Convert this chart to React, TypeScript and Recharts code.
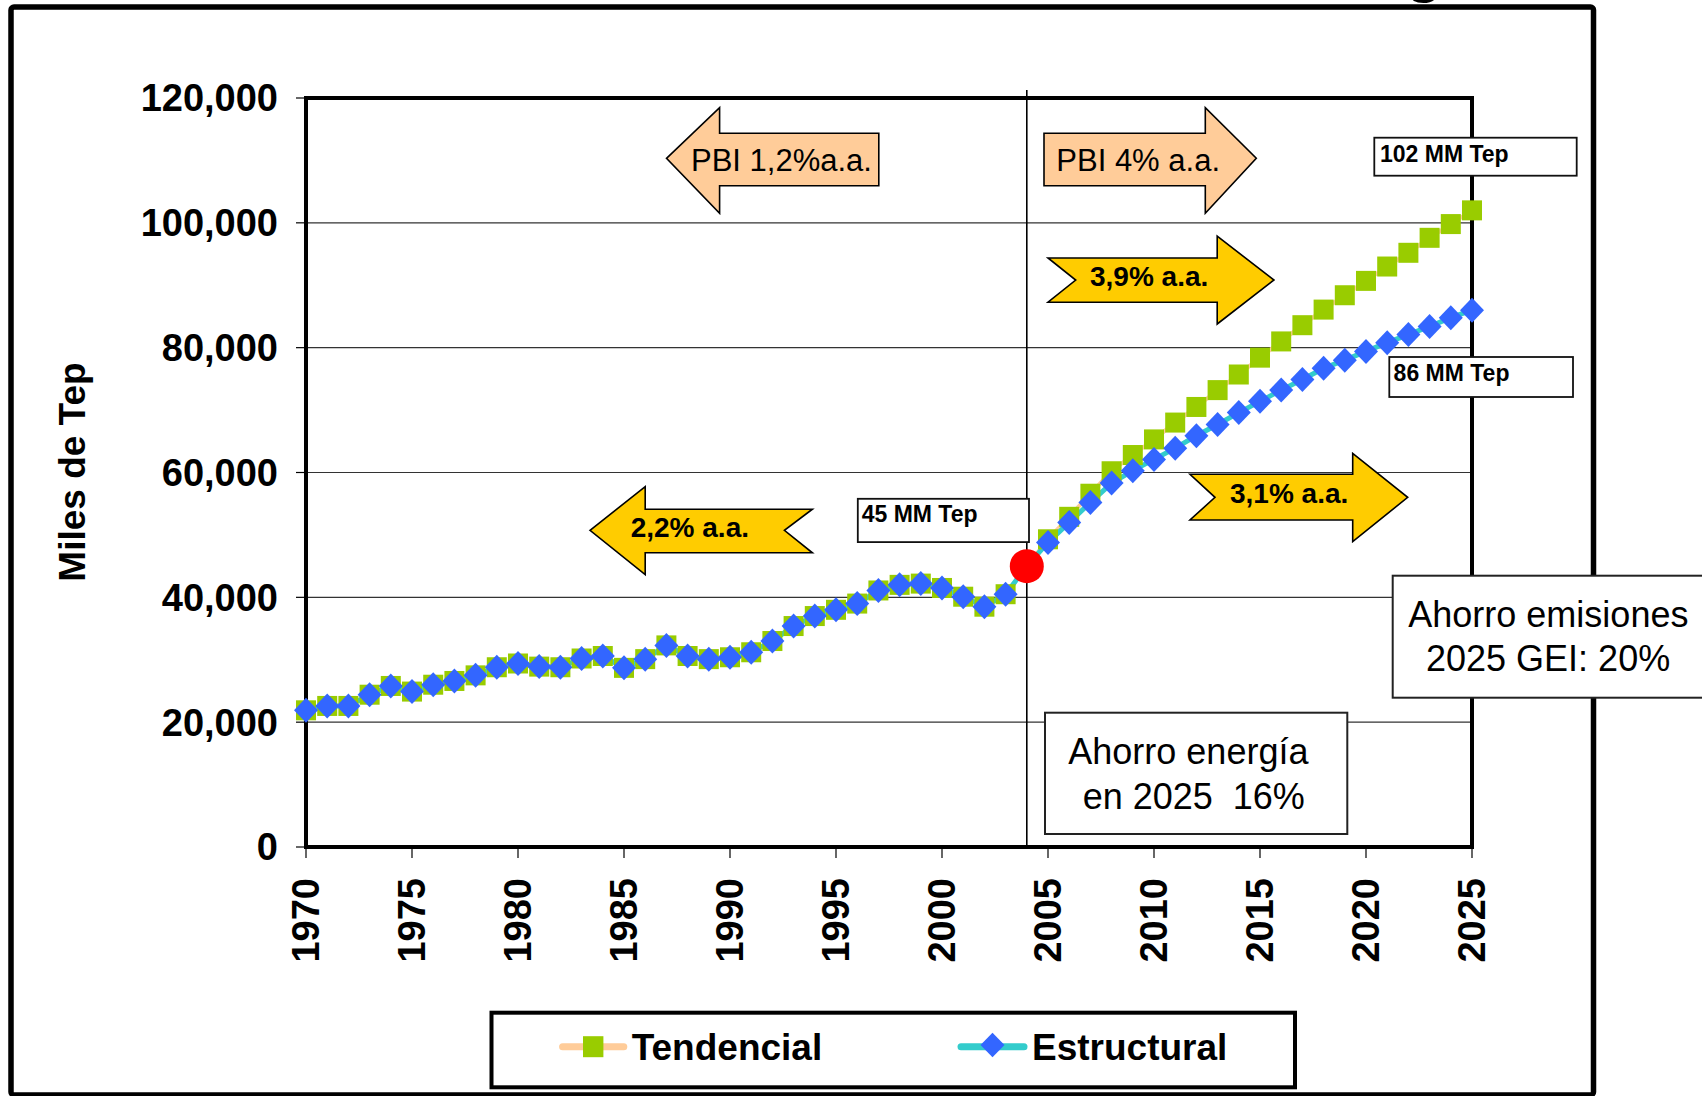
import React from 'react';
import {
  LineChart,
  Line,
  XAxis,
  YAxis,
  CartesianGrid,
  ReferenceLine,
  ReferenceDot,
  ReferenceArea,
} from 'recharts';

// Consumo de energía, miles de Tep
const years = Array.from({ length: 56 }, (_, i) => 1970 + i);

// 1970–2004: serie histórica compartida por ambos escenarios
const historico = [
  21900, 22600, 22600, 24400, 25800, 24900, 26000, 26600, 27500, 28800,
  29400, 28900, 28800, 30200, 30600, 28700, 30100, 32300, 30600, 30100,
  30400, 31200, 33000, 35400, 37000, 38000, 39000, 41100, 42000, 42200,
  41500, 40100, 38500, 40500, 45000,
];

// 2005–2025: proyecciones
const tendencialProy = [
  49300, 52900, 56600, 60200, 62800, 65300, 68000, 70500, 73200, 75700,
  78400, 81000, 83600, 86100, 88400, 90700, 93000, 95200, 97600, 99800,
  102000,
];
const estructuralProy = [
  48800, 52000, 55200, 58300, 60300, 62100, 63900, 65900, 67700, 69600,
  71400, 73200, 74900, 76700, 78000, 79400, 80800, 82100, 83400, 84800,
  86000,
];

const xTicks = [1970, 1975, 1980, 1985, 1990, 1995, 2000, 2005, 2010, 2015, 2020, 2025];
const yTicks = [0, 20000, 40000, 60000, 80000, 100000, 120000];

const baseYear = 2004;
const baseValue = 45000;

const tendencial = [...historico, ...tendencialProy];
const estructural = [...historico, ...estructuralProy];

const data = years.map((year, i) => ({
  year,
  tendencial: tendencial[i],
  estructural: estructural[i],
}));

const FONT = '"Liberation Sans", Arial, Helvetica, sans-serif';

const C_TEND_LINE = '#FFCC99';
const C_TEND_MARK = '#99CC00';
const C_EST_LINE = '#33CCCC';
const C_EST_MARK = '#3366FF';
const C_PEACH = '#FFCC99';
const C_GOLD = '#FFCC00';

const SquareDot = (props: any) => {
  const { cx, cy } = props;
  if (cx == null || cy == null) return null;
  return <rect x={cx - 10} y={cy - 10} width={20} height={20} fill={C_TEND_MARK} />;
};

const DiamondDot = (props: any) => {
  const { cx, cy } = props;
  if (cx == null || cy == null) return null;
  return (
    <polygon
      points={`${cx},${cy - 12.5} ${cx + 12},${cy} ${cx},${cy + 12.5} ${cx - 12},${cy}`}
      fill={C_EST_MARK}
    />
  );
};

const XTick = (props: any) => {
  const { x, y, payload } = props;
  return (
    <text
      x={x}
      y={y}
      transform={`rotate(-90 ${x} ${y})`}
      textAnchor="end"
      dy="0.355em"
      fontSize={38}
      fontWeight={700}
      fontFamily={FONT}
      fill="#000"
    >
      {payload.value}
    </text>
  );
};

const fmt = (v: number) => v.toLocaleString('en-US');

const Arrow = ({ points, fill }: { points: number[][]; fill: string }) => (
  <polygon
    points={points.map((p) => p.join(',')).join(' ')}
    fill={fill}
    stroke="#000"
    strokeWidth={1.6}
    strokeLinejoin="miter"
  />
);

const LabelBox = ({ x, y, w, h, text, tx, ty }: any) => (
  <g>
    <rect x={x} y={y} width={w} height={h} fill="#fff" stroke="#111" strokeWidth={1.8} />
    <text x={tx} y={ty} fontFamily={FONT} fontWeight={700} fontSize={23} fill="#000">
      {text}
    </text>
  </g>
);

export default function App() {
  return (
    <div
      style={{
        position: 'absolute',
        left: 0,
        top: 0,
        width: 1702,
        height: 1096,
        overflow: 'hidden',
        background: '#fff',
      }}
    >
      {/* marco exterior */}
      <svg width={1702} height={1096} style={{ position: 'absolute', left: 0, top: 0 }}>
        <text x={1424} y={-9} textAnchor="middle" fontFamily={FONT} fontWeight={700} fontSize={60} fill="#000">
          g
        </text>
        <rect x={11} y={7} width={1582.5} height={1088} rx={3} fill="none" stroke="#000" strokeWidth={5.5} />
      </svg>

      <div style={{ position: 'absolute', left: 0, top: 0 }}>
        <LineChart
          width={1702}
          height={1096}
          data={data}
          margin={{ top: 98, right: 230, bottom: 129, left: 0 }}
        >
          <CartesianGrid vertical={false} stroke="#333" strokeWidth={1.2} />
          <XAxis
            dataKey="year"
            type="number"
            domain={[1970, 2025]}
            ticks={xTicks}
            interval={0}
            height={120}
            tick={<XTick />}
            tickSize={11}
            tickMargin={20}
            axisLine={{ stroke: '#000', strokeWidth: 4 }}
            tickLine={{ stroke: '#000', strokeWidth: 1.2 }}
          />
          <YAxis
            type="number"
            domain={[0, 120000]}
            ticks={yTicks}
            interval={0}
            width={306}
            tickFormatter={fmt}
            tick={{ fontSize: 38, fontWeight: 700, fill: '#000', fontFamily: FONT }}
            tickSize={10}
            tickMargin={18}
            axisLine={{ stroke: '#000', strokeWidth: 4 }}
            tickLine={{ stroke: '#000', strokeWidth: 1.2 }}
          />
          <ReferenceArea
            x1={1970}
            x2={2025}
            y1={0}
            y2={120000}
            fill="none"
            fillOpacity={0}
            stroke="#000"
            strokeWidth={4}
            ifOverflow="visible"
          />
          <ReferenceLine
            segment={[
              { x: baseYear, y: 0 },
              { x: baseYear, y: 121300 },
            ]}
            stroke="#000"
            strokeWidth={1.6}
            ifOverflow="visible"
          />
          <Line
            dataKey="tendencial"
            name="Tendencial"
            stroke={C_TEND_LINE}
            strokeWidth={4}
            dot={SquareDot}
            activeDot={false}
            isAnimationActive={false}
          />
          <Line
            dataKey="estructural"
            name="Estructural"
            stroke={C_EST_LINE}
            strokeWidth={5}
            dot={DiamondDot}
            activeDot={false}
            isAnimationActive={false}
          />
          <ReferenceDot x={baseYear} y={baseValue} r={17} fill="#FF0000" stroke="none" ifOverflow="visible" />
        </LineChart>
      </div>

      {/* anotaciones */}
      <svg
        width={1702}
        height={1096}
        style={{ position: 'absolute', left: 0, top: 0, pointerEvents: 'none' }}
      >
        <text
          transform="translate(85,472) rotate(-90)"
          textAnchor="middle"
          fontFamily={FONT}
          fontWeight={700}
          fontSize={37}
          fill="#000"
        >
          Miles de Tep
        </text>

        {/* PBI */}
        <Arrow
          fill={C_PEACH}
          points={[
            [666.5, 158.3],
            [719.6, 107.7],
            [719.6, 133.3],
            [878.8, 133.3],
            [878.8, 185.7],
            [719.6, 185.7],
            [719.6, 213.3],
          ]}
        />
        <text x={691} y={171} fontFamily={FONT} fontSize={31} fill="#000">
          PBI 1,2%a.a.
        </text>
        <Arrow
          fill={C_PEACH}
          points={[
            [1044, 133.3],
            [1205.3, 133.3],
            [1205.3, 107.7],
            [1256.3, 158.3],
            [1205.3, 213.3],
            [1205.3, 185.7],
            [1044, 185.7],
          ]}
        />
        <text x={1056.3} y={171} fontFamily={FONT} fontSize={31} fill="#000">
          PBI 4% a.a.
        </text>

        {/* tasas de crecimiento */}
        <Arrow
          fill={C_GOLD}
          points={[
            [1048, 258],
            [1217.2, 258],
            [1217.2, 236.2],
            [1274, 280],
            [1217.2, 324],
            [1217.2, 302.2],
            [1048, 302.2],
            [1075.7, 280],
          ]}
        />
        <text x={1090} y={285.7} fontFamily={FONT} fontWeight={700} fontSize={28} fill="#000">
          3,9% a.a.
        </text>
        <Arrow
          fill={C_GOLD}
          points={[
            [1190, 474.3],
            [1352.7, 474.3],
            [1352.7, 453.3],
            [1407.7, 497.3],
            [1352.7, 541.7],
            [1352.7, 520],
            [1190, 520],
            [1215, 497.3],
          ]}
        />
        <text x={1230} y={503.3} fontFamily={FONT} fontWeight={700} fontSize={28} fill="#000">
          3,1% a.a.
        </text>
        <Arrow
          fill={C_GOLD}
          points={[
            [590, 530.3],
            [645.2, 486.7],
            [645.2, 509.2],
            [812.4, 509.2],
            [784.4, 530.3],
            [812.4, 552.8],
            [645.2, 552.8],
            [645.2, 574.6],
          ]}
        />
        <text x={630.7} y={537} fontFamily={FONT} fontWeight={700} fontSize={28} fill="#000">
          2,2% a.a.
        </text>

        {/* valores */}
        <LabelBox x={857.8} y={498.8} w={171.2} h={43.3} text="45 MM Tep" tx={861.7} ty={522} />
        <LabelBox x={1374.3} y={137.7} w={202.4} h={38} text="102 MM Tep" tx={1380} ty={162.3} />
        <LabelBox x={1389.3} y={357} w={183.7} h={40} text="86 MM Tep" tx={1393.6} ty={381.3} />

        {/* ahorros */}
        <rect x={1045} y={712.7} width={302.3} height={121.3} fill="#fff" stroke="#222" strokeWidth={2} />
        <text fontFamily={FONT} fontSize={36} fill="#000" style={{ whiteSpace: 'pre' }}>
          <tspan x={1068.3} y={764}>Ahorro energía</tspan>
          <tspan x={1082.7} y={809}>en 2025  16%</tspan>
        </text>
        <rect x={1392.7} y={575.7} width={330} height={122} fill="#fff" stroke="#222" strokeWidth={2} />
        <text fontFamily={FONT} fontSize={36} fill="#000" style={{ whiteSpace: 'pre' }}>
          <tspan x={1408.3} y={626.7}>Ahorro emisiones</tspan>
          <tspan x={1426} y={671}>2025 GEI: 20%</tspan>
        </text>

        {/* leyenda */}
        <rect x={491.5} y={1012.7} width={803.5} height={74.6} fill="#fff" stroke="#000" strokeWidth={4} />
        <line x1={562.6} y1={1046.7} x2={623.8} y2={1046.7} stroke={C_TEND_LINE} strokeWidth={7} strokeLinecap="round" />
        <rect x={583} y={1036.2} width={20.4} height={21} fill={C_TEND_MARK} />
        <text x={631.7} y={1060} fontFamily={FONT} fontWeight={700} fontSize={37} fill="#000">
          Tendencial
        </text>
        <line x1={961} y1={1046.7} x2={1024} y2={1046.7} stroke={C_EST_LINE} strokeWidth={7} strokeLinecap="round" />
        <polygon
          points="992.5,1032.7 1004.5,1045 992.5,1057.3 980.5,1045"
          fill={C_EST_MARK}
        />
        <text x={1032} y={1060} fontFamily={FONT} fontWeight={700} fontSize={37} fill="#000">
          Estructural
        </text>
      </svg>
    </div>
  );
}
